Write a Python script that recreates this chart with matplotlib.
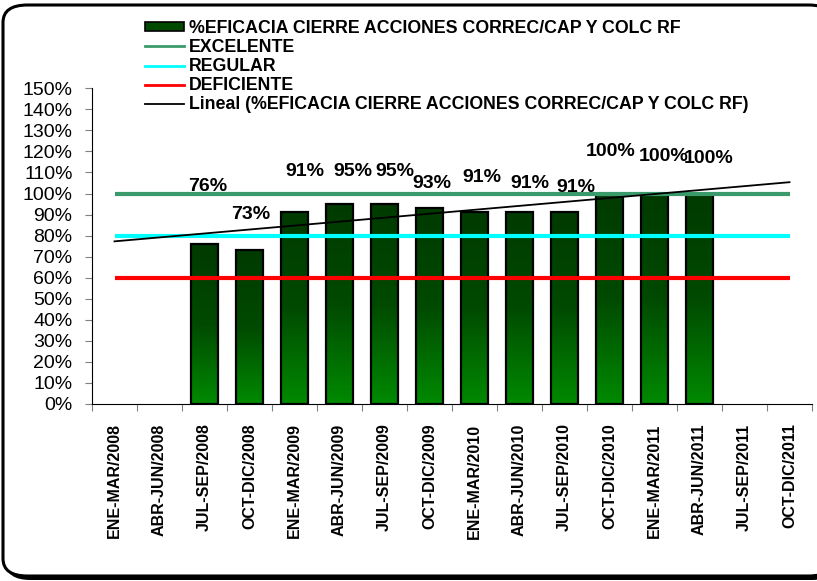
import numpy as np
import matplotlib
matplotlib.use("Agg")
import matplotlib.pyplot as plt
from matplotlib.colors import LinearSegmentedColormap
from matplotlib.patches import FancyBboxPatch, Patch
from matplotlib.lines import Line2D

plt.rcParams['font.family'] = ['Liberation Sans', 'DejaVu Sans']

# quarters on the x axis
periods = ['ENE-MAR/2008', 'ABR-JUN/2008', 'JUL-SEP/2008', 'OCT-DIC/2008',
           'ENE-MAR/2009', 'ABR-JUN/2009', 'JUL-SEP/2009', 'OCT-DIC/2009',
           'ENE-MAR/2010', 'ABR-JUN/2010', 'JUL-SEP/2010', 'OCT-DIC/2010',
           'ENE-MAR/2011', 'ABR-JUN/2011', 'JUL-SEP/2011', 'OCT-DIC/2011']
# % eficacia (None = no data)
eficacia = [None, None, 0.76, 0.73, 0.91, 0.95, 0.95, 0.93,
            0.91, 0.91, 0.91, 1.00, 1.00, 1.00, None, None]
excelente = [1.00] * 16
regular = [0.80] * 16
deficiente = [0.60] * 16

# label nudges (pixels) - labels were moved by hand in the original
label_dx = [0, 0, 3, 1, 10, 13, 10, 2, 7, 10, 11, 1, 9, 9, 0, 0]
label_dy = [0, 0, 58, 36, 41, 33, 33, 25, 35, 29, 25, 42, 37, 35, 0, 0]

W, H = 817, 581
fig = plt.figure(figsize=(W / 100, H / 100), dpi=100)

# rounded chart border with shadow
shadow = FancyBboxPatch((6 / W, 1 / H), 830 / W, 572 / H, boxstyle="round,pad=0,rounding_size=0.03",
                        transform=fig.transFigure, fc='black', ec='black', lw=0, zorder=0)
border = FancyBboxPatch((3 / W, 5 / H), 830 / W, 571 / H, boxstyle="round,pad=0,rounding_size=0.03",
                        transform=fig.transFigure, fc='white', ec='black', lw=2.2, zorder=1)
fig.patches.extend([shadow, border])

ax = fig.add_axes([92 / W, 1 - 404 / H, 720 / W, (404 - 88.3) / H])
ax.set_zorder(2)
ax.patch.set_alpha(0)

x = np.arange(len(periods)) + 0.5
cmap = LinearSegmentedColormap.from_list('grn', ['#008a00', '#004a00', '#003a00'])
grad = np.linspace(0, 1, 256).reshape(-1, 1)
bw = 0.58
for xi, v in zip(x, eficacia):
    if v is None:
        continue
    ax.imshow(grad, extent=[xi - bw / 2, xi + bw / 2, 0, v], origin='lower',
              cmap=cmap, aspect='auto', zorder=2)
    ax.add_patch(plt.Rectangle((xi - bw / 2, 0), bw, v, fc='none', ec='black', lw=1.6, zorder=3))

for i, v in enumerate(eficacia):
    if v is None:
        continue
    ax.annotate(f"{v * 100:.0f}%", (x[i], v), xytext=(label_dx[i], label_dy[i]),
                textcoords='offset pixels', ha='center', va='center',
                fontsize=14, fontweight='bold', zorder=6)

ax.plot(x, excelente, color='#3a9a6c', lw=3, zorder=4, solid_capstyle='butt')
ax.plot(x, regular, color='#00ffff', lw=3, zorder=4, solid_capstyle='butt')
ax.plot(x, deficiente, color='#ff0000', lw=3, zorder=4, solid_capstyle='butt')

# linear trendline over the quarters with data
idx = np.array([i for i, v in enumerate(eficacia) if v is not None])
vals = np.array([eficacia[i] for i in idx])
m, b = np.polyfit(idx, vals, 1)
ax.plot(x, m * np.arange(len(periods)) + b, color='black', lw=1.3, zorder=5)

ax.set_xlim(0, len(periods))
ax.set_ylim(0, 1.5)
ax.set_yticks(np.arange(0, 1.51, 0.1))
ax.set_yticklabels([f"{t * 100:.0f}%" for t in np.arange(0, 1.51, 0.1)], fontsize=14)
ax.set_xticks(np.arange(len(periods) + 1))
ax.set_xticklabels([])
ax.set_xticks(x, minor=True)
ax.set_xticklabels(periods, minor=True, rotation=90, fontsize=11.5, fontweight='bold', va='top')
ax.tick_params(axis='x', which='minor', length=0, pad=14)
ax.tick_params(axis='x', which='major', length=5, color='#808080')
ax.tick_params(axis='y', length=5, color='#808080', pad=9)
for s in ['top', 'right']:
    ax.spines[s].set_visible(False)
ax.spines['left'].set_color('black')
ax.spines['bottom'].set_color('black')

handles = [Patch(fc='#004a00', ec='black', lw=1.2),
           Line2D([], [], color='#3a9a6c', lw=2),
           Line2D([], [], color='#00ffff', lw=2),
           Line2D([], [], color='#ff0000', lw=2),
           Line2D([], [], color='black', lw=1.3)]
labels = ['%EFICACIA CIERRE ACCIONES CORREC/CAP Y COLC RF', 'EXCELENTE', 'REGULAR', 'DEFICIENTE',
          'Lineal (%EFICACIA CIERRE ACCIONES CORREC/CAP Y COLC RF)']
leg = fig.legend(handles, labels, loc='upper left', bbox_to_anchor=(136 / W, 1 - 11 / H),
                 frameon=False, prop={'weight': 'bold', 'size': 12.8}, handlelength=2.2,
                 handleheight=0.45, handletextpad=0.3, labelspacing=0.12, borderpad=0)

fig.savefig('out.png', dpi=100)
